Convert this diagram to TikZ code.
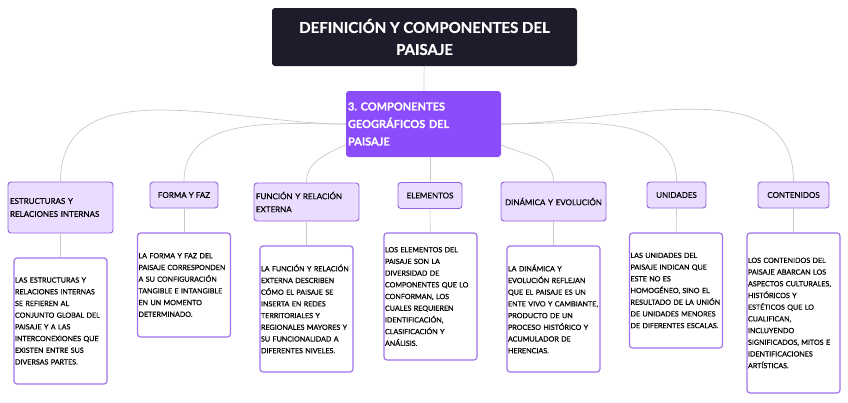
\documentclass[tikz,border=0pt]{standalone}
\usepackage{fontspec}
\setmainfont{Lato}[BoldFeatures={FakeBold=0.6}]
\newfontfamily\medfont{Lato}[FakeBold=0.35]
\usetikzlibrary{positioning}
\frenchspacing
\hyphenpenalty=10000
\definecolor{TitleDark}{RGB}{31,27,43}
\definecolor{MainPurple}{RGB}{139,76,252}
\definecolor{CatFill}{RGB}{234,220,255}
\definecolor{CatLine}{RGB}{148,98,222}
\definecolor{DescLine}{RGB}{160,115,232}
\definecolor{LinkGray}{RGB}{200,200,200}
\tikzset{
  titlebox/.style={fill=TitleDark,rounded corners=3pt,text=white,inner sep=0pt,
    font=\bfseries\fontsize{15}{22}\selectfont,align=center,
    minimum width=305pt,minimum height=58pt},
  compbox/.style={fill=MainPurple,rounded corners=3pt,text=white,inner xsep=2pt,inner ysep=0pt,
    font=\bfseries\fontsize{11}{17.5}\selectfont,align=left,text width=151pt,
    minimum height=66pt},
  cat/.style={draw=CatLine,fill=CatFill,line width=0.9pt,rounded corners=3pt,inner xsep=2pt,
    inner ysep=0pt,font=\medfont\fontsize{8}{13}\selectfont},
  desc/.style={draw=DescLine,fill=white,line width=1.2pt,rounded corners=3pt,inner xsep=1pt,
    inner ysep=0pt,text width=91pt,align=left,
    font=\medfont\fontsize{7.15}{11.7}\selectfont},
  link/.style={draw=LinkGray,line width=0.7pt},
}
\begin{document}
\begin{tikzpicture}[x=1pt,y=-1pt]
\useasboundingbox (0,0) rectangle (848,402);
\node[titlebox] (title) at (424.5,37) {DEFINICIÓN Y COMPONENTES DEL\\PAISAJE};
\node[compbox] (comp) at (423.5,124) {3. COMPONENTES\\GEOGRÁFICOS DEL\\PAISAJE\\[10pt]};
% categories
\node[cat,text width=101pt,align=left,minimum height=51pt] (estr) at (60.5,207.5) {ESTRUCTURAS Y\\RELACIONES INTERNAS};
\node[cat,minimum width=68pt,minimum height=26pt] (forma) at (184,195) {FORMA Y FAZ};
\node[cat,text width=101pt,align=left,minimum height=38pt] (func) at (306.5,202) {FUNCIÓN Y RELACIÓN\\EXTERNA};
\node[cat,minimum width=64pt,minimum height=26pt] (elem) at (430,195.5) {ELEMENTOS};
\node[cat,text width=101pt,align=center,minimum height=39pt] (dina) at (553.5,201.5) {DINÁMICA Y EVOLUCIÓN};
\node[cat,minimum width=59pt,minimum height=26pt] (unid) at (676.5,195) {UNIDADES};
\node[cat,minimum width=71pt,minimum height=26pt] (cont) at (793.5,195) {CONTENIDOS};
% descriptions
\node[desc,minimum height=126pt] (estrD) at (60.5,321) {LAS ESTRUCTURAS Y\\RELACIONES INTERNAS\\SE REFIEREN AL\\CONJUNTO GLOBAL DEL\\PAISAJE Y A LAS\\INTERCONEXIONES QUE\\EXISTEN ENTRE SUS\\DIVERSAS PARTES.};
\node[desc,minimum height=104pt] (formaD) at (184,285) {LA FORMA Y FAZ DEL\\PAISAJE CORRESPONDEN\\A SU CONFIGURACIÓN\\TANGIBLE E INTANGIBLE\\EN UN MOMENTO\\DETERMINADO.};
\node[desc,minimum height=126pt] (funcD) at (306.5,309) {LA FUNCIÓN Y RELACIÓN\\EXTERNA DESCRIBEN\\CÓMO EL PAISAJE SE\\INSERTA EN REDES\\TERRITORIALES Y\\REGIONALES MAYORES Y\\SU FUNCIONALIDAD A\\DIFERENTES NIVELES.};
\node[desc,minimum height=127pt] (elemD) at (430.5,296.5) {LOS ELEMENTOS DEL\\PAISAJE SON LA\\DIVERSIDAD DE\\COMPONENTES QUE LO\\CONFORMAN, LOS\\CUALES REQUIEREN\\IDENTIFICACIÓN,\\CLASIFICACIÓN Y\\ANÁLISIS.};
\node[desc,minimum height=126pt] (dinaD) at (553.5,309) {LA DINÁMICA Y\\EVOLUCIÓN REFLEJAN\\QUE EL PAISAJE ES UN\\ENTE VIVO Y CAMBIANTE,\\PRODUCTO DE UN\\PROCESO HISTÓRICO Y\\ACUMULADOR DE\\HERENCIAS.};
\node[desc,minimum height=115pt] (unidD) at (676,290.5) {LAS UNIDADES DEL\\PAISAJE INDICAN QUE\\ESTE NO ES\\HOMOGÉNEO, SINO EL\\RESULTADO DE LA UNIÓN\\DE UNIDADES MENORES\\DE DIFERENTES ESCALAS.};
\node[desc,minimum height=160pt] (contD) at (793.5,313) {LOS CONTENIDOS DEL\\PAISAJE ABARCAN LOS\\ASPECTOS CULTURALES,\\HISTÓRICOS Y\\ESTÉTICOS QUE LO\\CUALIFICAN,\\INCLUYENDO\\SIGNIFICADOS, MITOS E\\IDENTIFICACIONES\\ARTÍSTICAS.};
% links
\draw[link] (title) -- (comp);
\draw[link] (comp.west) to[out=180,in=90] (estr.north);
\draw[link] (comp.west) to[out=180,in=90] (forma.north);
\draw[link] (comp.195) to[out=205,in=90] (func.north);
\draw[link] (comp.south -| elem.north) -- (elem.north);
\draw[link] (comp.-15) to[out=-25,in=90] (dina.north);
\draw[link] (comp.east) to[out=0,in=90] (unid.north);
\draw[link] (comp.east) to[out=0,in=90] (cont.north);
\draw[link] (estr) -- (estrD);
\draw[link] (forma) -- (formaD);
\draw[link] (func) -- (funcD);
\draw[link] (elem) -- (elemD);
\draw[link] (dina) -- (dinaD);
\draw[link] (unid) -- (unidD);
\draw[link] (cont) -- (contD);
\end{tikzpicture}
\end{document}
